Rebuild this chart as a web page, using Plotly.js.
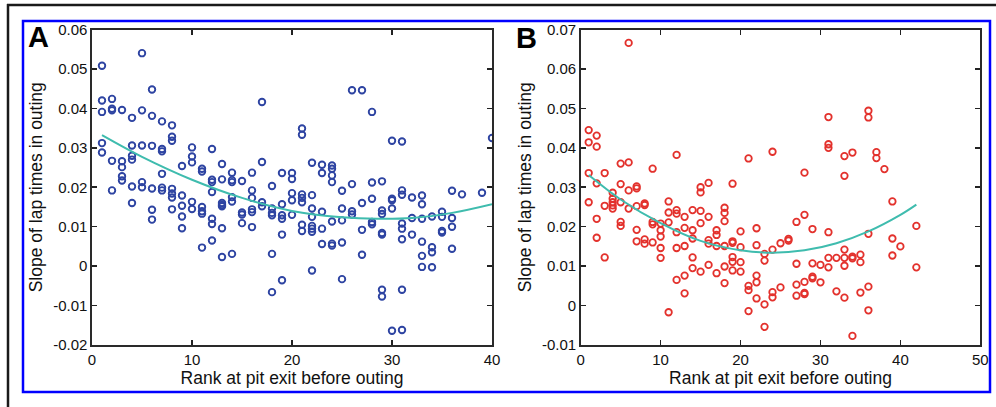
<!DOCTYPE html>
<html>
<head>
<meta charset="utf-8">
<script src="https://cdn.plot.ly/plotly-3.0.1.min.js"></script>
<style>html,body{margin:0;padding:0;background:#fff;}#chart{width:996px;height:407px;}</style>
</head>
<body>
<div id="chart"></div>
<script>
// ---------- Panel A data ----------
const rankA = [
 1,1,1,1,1, 2,2,2,2,2, 3,3,3,3,3, 4,4,4,4,4,4, 5,5,5,5,5, 6,6,6,6,6,6,
 7,7,7,7,7,7, 8,8,8,8,8,8,8, 9,9,9,9,9, 10,10,10,10,10, 11,11,11,11,11,11,
 12,12,12,12,12,12,12, 13,13,13,13,13,13,13, 14,14,14,14,14,14, 15,15,15,15,
 16,16,16,16,16,16, 17,17,17,17, 18,18,18,18,18,18, 19,19,19,19,19,19,
 20,20,20,20,20, 21,21,21,21,21,21,21, 22,22,22,22,22,22,22,22, 23,23,23,23,23,
 24,24,24,24,24,24,24, 25,25,25,25,25, 26,26,26,26, 27,27,27,27, 28,28,28,28,28,
 29,29,29,29,29,29,29, 30,30,30,30,30, 31,31,31,31,31,31,31,31, 32,32,32,
 33,33,33,33,33,33, 34,34,34,34, 35,35,35,35, 36,36,36,36, 37, 39, 40
];
const slopeA = [
 0.0508,0.0420,0.0391,0.0312,0.0288,
 0.0424,0.0399,0.0395,0.0267,0.0192,
 0.0396,0.0266,0.0251,0.0228,0.0217,
 0.0376,0.0306,0.0280,0.0270,0.0202,0.0160,
 0.0540,0.0395,0.0306,0.0213,0.0200,
 0.0448,0.0381,0.0305,0.0197,0.0143,0.0118,
 0.0367,0.0297,0.0291,0.0234,0.0199,0.0192,
 0.0357,0.0328,0.0318,0.0196,0.0184,0.0174,0.0144,
 0.0254,0.0179,0.0153,0.0126,0.0096,
 0.0301,0.0278,0.0263,0.0163,0.0145,
 0.0247,0.0240,0.0150,0.0139,0.0133,0.0047,
 0.0297,0.0219,0.0213,0.0188,0.0120,0.0107,0.0065,
 0.0259,0.0220,0.0160,0.0155,0.0152,0.0096,0.0023,
 0.0237,0.0218,0.0213,0.0175,0.0164,0.0031,
 0.0216,0.0136,0.0131,0.0109,
 0.0237,0.0192,0.0173,0.0144,0.0137,0.0099,
 0.0416,0.0264,0.0162,0.0152,
 0.0203,0.0146,0.0135,0.0129,0.0031,-0.0066,
 0.0236,0.0157,0.0129,0.0120,0.0080,-0.0036,
 0.0236,0.0221,0.0185,0.0167,0.0130,
 0.0349,0.0333,0.0182,0.0173,0.0162,0.0105,0.0089,
 0.0262,0.0180,0.0146,0.0125,0.0102,0.0095,0.0087,-0.0011,
 0.0257,0.0236,0.0138,0.0095,0.0056,
 0.0255,0.0247,0.0230,0.0213,0.0113,0.0057,0.0052,
 0.0191,0.0146,0.0116,0.0060,-0.0033,
 0.0446,0.0208,0.0139,0.0131,
 0.0446,0.0160,0.0092,0.0029,
 0.0391,0.0212,0.0171,0.0112,0.0106,
 0.0215,0.0141,0.0132,0.0084,0.0080,-0.0060,-0.0077,
 0.0318,0.0171,0.0167,0.0146,-0.0164,
 0.0316,0.0192,0.0181,0.0108,0.0095,0.0068,-0.0060,-0.0162,
 0.0174,0.0122,0.0080,
 0.0179,0.0157,0.0120,0.0062,0.0026,-0.0002,
 0.0126,0.0048,0.0035,-0.0003,
 0.0138,0.0125,0.0089,0.0085,
 0.0191,0.0122,0.0100,0.0044,
 0.0182, 0.0186, 0.0325
];
const fitRankA  = [1, 5, 10, 15, 20, 25, 28.5, 32, 36, 40];
const fitSlopeA = [0.0332, 0.0277, 0.0219, 0.0173, 0.0140, 0.0124, 0.0120, 0.0122, 0.0135, 0.0157];

// ---------- Panel B data ----------
const rankB = [
 1,1,1,1, 2,2,2,2,2, 3,3,3, 4,4,4,4,4, 5,5,5,5,5, 6,6,6,6, 7,7,7,7,7, 8,8,8,8,
 9,9,9,9, 10,10,10,10,10, 11,11,11,11, 12,12,12,12,12,12, 13,13,13,13,13,
 14,14,14,14,14, 15,15,15,15,15, 16,16,16,16,16, 17,17,17,17, 18,18,18,18,18,18,
 19,19,19,19,19,19, 20,20,20,20, 21,21,21,21, 22,22,22,22,22, 23,23,23,23,
 24,24,24,24, 25,25, 26,26, 27,27,27,27, 28,28,28,28,28, 29,29,29,29, 30,30,
 31,31,31,31,31,31, 32,32, 33,33,33,33,33,33, 34,34,34,34, 35,35,35,
 36,36,36,36,36, 37,37, 38, 39,39,39, 40, 42,42
];
const slopeB = [
 0.0445,0.0414,0.0336,0.0262,
 0.0431,0.0403,0.0310,0.0220,0.0172,
 0.0336,0.0253,0.0122,
 0.0286,0.0271,0.0262,0.0254,0.0246,
 0.0360,0.0308,0.0262,0.0212,0.0202,
 0.0666,0.0363,0.0292,0.0246,
 0.0302,0.0297,0.0252,0.0192,0.0163,
 0.0259,0.0255,0.0168,0.0157,
 0.0347,0.0212,0.0206,0.0160,
 0.0208,0.0191,0.0175,0.0146,0.0121,
 0.0264,0.0236,0.0211,-0.0017,
 0.0382,0.0242,0.0233,0.0186,0.0146,0.0065,
 0.0225,0.0197,0.0151,0.0076,0.0031,
 0.0242,0.0191,0.0170,0.0122,0.0095,
 0.0300,0.0287,0.0240,0.0209,0.0086,
 0.0311,0.0225,0.0166,0.0157,0.0103,
 0.0191,0.0179,0.0151,0.0082,
 0.0248,0.0235,0.0214,0.0151,0.0099,0.0057,
 0.0309,0.0163,0.0159,0.0123,0.0111,0.0089,
 0.0188,0.0148,0.0110,0.0086,
 0.0373,0.0050,0.0039,-0.0014,
 0.0196,0.0153,0.0076,0.0059,0.0018,
 0.0131,0.0114,0.0003,-0.0054,
 0.0390,0.0142,0.0034,0.0021,
 0.0158,0.0046,
 0.0169,0.0165,
 0.0212,0.0106,0.0053,0.0025,
 0.0337,0.0230,0.0060,0.0032,0.0029,
 0.0194,0.0107,0.0073,0.0069,
 0.0103,0.0059,
 0.0478,0.0409,0.0400,0.0186,0.0121,0.0097,
 0.0121,0.0036,
 0.0379,0.0329,0.0142,0.0121,0.0101,0.0020,
 0.0388,0.0124,0.0120,-0.0077,
 0.0129,0.0110,0.0033,
 0.0494,0.0477,0.0182,0.0048,-0.0012,
 0.0389,0.0374,
 0.0346,
 0.0264,0.0170,0.0127,
 0.0150,
 0.0202,0.0097
];
const fitRankB  = [1, 5, 10, 15, 20, 24, 28, 32, 36, 40, 42];
const fitSlopeB = [0.0331, 0.0269, 0.0209, 0.0164, 0.0140, 0.0134, 0.0140, 0.0158, 0.0188, 0.0230, 0.0256];

// ---------- Ticks and labels ----------
const xTicksA = [0, 10, 20, 30, 40];
const xTicksB = [0, 10, 20, 30, 40, 50];
const yTickValsA = [-0.02, -0.01, 0, 0.01, 0.02, 0.03, 0.04, 0.05, 0.06];
const yTickTextA = ['-0.02', '-0.01', '0', '0.01', '0.02', '0.03', '0.04', '0.05', '0.06'];
const yTickValsB = [-0.01, 0, 0.01, 0.02, 0.03, 0.04, 0.05, 0.06, 0.07];
const yTickTextB = ['-0.01', '0', '0.01', '0.02', '0.03', '0.04', '0.05', '0.06', '0.07'];
const xTitle = 'Rank at pit exit before outing';
const yTitle = 'Slope of lap times in outing';
const panelLabels = ['A', 'B'];

const W = 996, H = 407;
const FONT = 'Liberation Sans, Arial, Helvetica, sans-serif';
const fitColor = '#3fbcae';

const traces = [
  {x: rankA, y: slopeA, type: 'scatter', mode: 'markers', xaxis: 'x', yaxis: 'y',
   marker: {symbol: 'circle-open', size: 6.5, color: '#2e44a2', line: {width: 1.9, color: '#2e44a2'}},
   hoverinfo: 'x+y', showlegend: false},
  {x: fitRankA, y: fitSlopeA, type: 'scatter', mode: 'lines', xaxis: 'x', yaxis: 'y',
   line: {color: fitColor, width: 2, shape: 'spline'}, showlegend: false},
  {x: rankB, y: slopeB, type: 'scatter', mode: 'markers', xaxis: 'x2', yaxis: 'y2',
   marker: {symbol: 'circle-open', size: 6.5, color: '#e3312c', line: {width: 1.8, color: '#e3312c'}},
   hoverinfo: 'x+y', showlegend: false},
  {x: fitRankB, y: fitSlopeB, type: 'scatter', mode: 'lines', xaxis: 'x2', yaxis: 'y2',
   line: {color: fitColor, width: 2, shape: 'spline'}, showlegend: false}
];

function axisBase() {
  return {
    showgrid: false, zeroline: false, showline: true, linecolor: '#2a2a2a', linewidth: 1.6,
    mirror: 'ticks', ticks: 'inside', ticklen: 5, tickwidth: 1.6, tickcolor: '#222',
    tickfont: {family: FONT, size: 15, color: '#111'}, fixedrange: true
  };
}
const px = v => v / W;
const py = v => 1 - v / H;
const titleFont = {family: FONT, size: 17.5, color: '#111'};

const xA = Object.assign(axisBase(), {
  domain: [px(92), px(492)], range: [0, 40], tickmode: 'array', tickvals: xTicksA, anchor: 'y',
  title: {text: xTitle, font: titleFont, standoff: 5}
});
const yA = Object.assign(axisBase(), {
  domain: [py(345), py(29.5)], range: [-0.02, 0.06], tickmode: 'array',
  tickvals: yTickValsA, ticktext: yTickTextA, anchor: 'x',
  title: {text: yTitle, font: titleFont, standoff: 6}
});
const xB = Object.assign(axisBase(), {
  domain: [px(580.7), px(980.3)], range: [0, 50], tickmode: 'array', tickvals: xTicksB, anchor: 'y2',
  title: {text: xTitle, font: titleFont, standoff: 5}
});
const yB = Object.assign(axisBase(), {
  domain: [py(345), py(29.5)], range: [-0.01, 0.07], tickmode: 'array',
  tickvals: yTickValsB, ticktext: yTickTextB, anchor: 'x2',
  title: {text: yTitle, font: titleFont, standoff: 6}
});

const layout = {
  width: W, height: H, margin: {l: 0, r: 0, t: 0, b: 0, pad: 0},
  paper_bgcolor: '#ffffff', plot_bgcolor: '#ffffff', showlegend: false,
  xaxis: xA, yaxis: yA, xaxis2: xB, yaxis2: yB,
  shapes: [
    {type: 'line', xref: 'paper', yref: 'paper', x0: px(7), x1: px(996), y0: py(5), y1: py(5),
     line: {color: '#1a1a1a', width: 2.5}},
    {type: 'line', xref: 'paper', yref: 'paper', x0: px(8), x1: px(8), y0: py(4), y1: py(407),
     line: {color: '#1a1a1a', width: 2.5}},
    {type: 'rect', xref: 'paper', yref: 'paper', x0: px(23), x1: px(990), y0: py(21), y1: py(392),
     line: {color: '#0000ff', width: 2.5}}
  ],
  annotations: [
    {text: '<b>' + panelLabels[0] + '</b>', xref: 'paper', yref: 'paper', x: px(38), y: py(37),
     xanchor: 'center', yanchor: 'middle', showarrow: false, font: {family: FONT, size: 29, color: '#000'}},
    {text: '<b>' + panelLabels[1] + '</b>', xref: 'paper', yref: 'paper', x: px(526), y: py(38),
     xanchor: 'center', yanchor: 'middle', showarrow: false, font: {family: FONT, size: 29, color: '#000'}}
  ]
};

Plotly.newPlot('chart', traces, layout, {displayModeBar: false, staticPlot: true});
</script>
</body>
</html>
